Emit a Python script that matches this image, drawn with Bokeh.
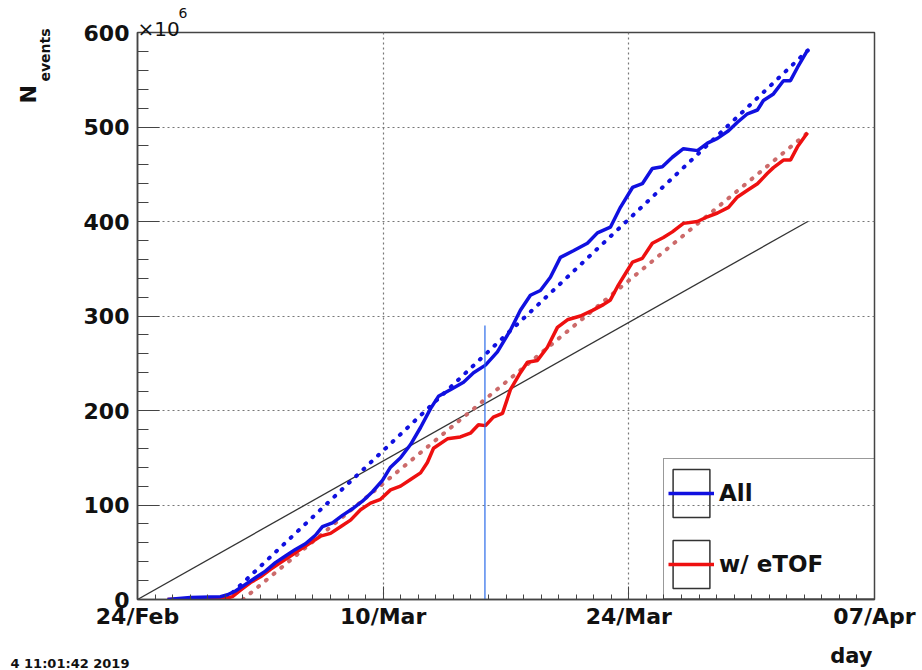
import math
from bokeh.plotting import figure
from bokeh.models import Range1d, FixedTicker, Legend, LegendItem, Label
from bokeh.embed import file_html
from bokeh.resources import INLINE

# ---------------- data (x = days since 24 Feb 2019, y = events x 1e6) ----------------
all_days = [1.71, 3.02, 4.73, 5.13, 5.58, 6.15, 6.72, 7.29, 7.86, 8.43, 9.00, 9.57,
            10.14, 10.54, 11.11, 11.68, 12.25, 12.82, 13.39, 13.96, 14.42, 14.99,
            15.56, 16.13, 16.70, 17.15, 17.83, 18.58, 19.15, 19.83, 20.51, 21.25,
            21.82, 22.39, 22.96, 23.53, 24.10, 24.84, 25.64, 26.21, 26.95, 27.52,
            28.21, 28.77, 29.34, 29.91, 30.48, 31.11, 31.91, 32.48, 33.05, 33.68,
            34.19, 34.76, 35.33, 35.67, 36.24, 36.81, 37.21, 37.61, 38.18]
all_vals = [0, 2, 3, 5, 9, 16, 23, 30, 39, 46, 53, 59,
            68, 77, 81, 89, 96, 104, 114, 126, 140, 150,
            164, 182, 202, 215, 222, 230, 240, 248, 262, 285,
            306, 322, 327, 341, 362, 369, 377, 388, 394, 415,
            436, 440, 456, 458, 468, 477, 475, 483, 488, 496,
            505, 514, 518, 528, 535, 549, 549, 563, 581]

etof_days = [1.71, 3.30, 5.01, 5.41, 5.87, 6.44, 7.01, 7.58, 8.15, 8.72, 9.29, 9.86,
             10.43, 11.00, 11.57, 12.14, 12.71, 13.28, 13.85, 14.42, 14.99, 15.56,
             16.13, 16.52, 16.87, 17.66, 18.40, 18.97, 19.43, 19.83, 20.28, 20.80,
             21.25, 21.82, 22.22, 22.79, 23.36, 23.93, 24.50, 25.24, 25.93, 26.55,
             26.95, 27.35, 27.81, 28.21, 28.77, 29.34, 29.97, 30.48, 31.11, 31.91,
             32.48, 33.05, 33.68, 34.19, 34.76, 35.33, 35.90, 36.24, 36.81, 37.21,
             37.61, 38.18]
etof_vals = [0, 1, 1, 3, 10, 18, 24, 32, 39, 46, 53, 60,
             67, 70, 77, 84, 95, 102, 106, 116, 120, 127,
             134, 145, 160, 170, 172, 176, 185, 184, 193, 197,
             222, 240, 251, 253, 267, 288, 296, 300, 306, 312,
             317, 331, 345, 357, 361, 377, 383, 389, 398, 400,
             405, 409, 415, 426, 433, 440, 451, 457, 465, 465,
             479, 494]

fit_all_days = [5.0, 38.2]
fit_all_vals = [0, 581]
fit_etof_days = [6.0, 38.2]
fit_etof_vals = [0, 494]
goal_days = [0, 38.2]
goal_vals = [0, 400]
marker_days = [19.8, 19.8]
marker_vals = [0, 290]

x_tick_days = [0, 14, 28, 42]
x_tick_labels = ["24/Feb", "10/Mar", "24/Mar", "07/Apr"]
y_ticks = [0, 100, 200, 300, 400, 500, 600]
y_minor = list(range(0, 601, 20))
x_minor = list(range(0, 43))

BLUE = "#1010e0"
RED = "#ee1010"
RED_FIT = "#cc6a6a"
FONT = "DejaVu Sans"

p = figure(width=922, height=670, output_backend="svg", toolbar_location=None,
           title=None, x_range=Range1d(0, 42), y_range=Range1d(0, 600),
           min_border_left=137, min_border_right=48, min_border_top=32,
           min_border_bottom=70)
p.background_fill_color = "white"
p.border_fill_color = "white"
p.outline_line_color = "#444444"
p.outline_line_width = 1.5

# axes
p.xaxis.ticker = FixedTicker(ticks=x_tick_days, minor_ticks=x_minor)
p.xaxis.major_label_overrides = {d: l for d, l in zip(x_tick_days, x_tick_labels)}
p.yaxis.ticker = FixedTicker(ticks=y_ticks, minor_ticks=y_minor)
for ax in (p.xaxis, p.yaxis):
    ax.major_label_text_font = FONT
    ax.major_label_text_font_style = "bold"
    ax.major_label_text_font_size = "22px"
    ax.major_label_text_color = "#111111"
    ax.axis_line_color = "#444444"
    ax.axis_line_width = 1.5
    ax.major_tick_line_color = "#444444"
    ax.minor_tick_line_color = "#444444"
    ax.major_tick_out = 0
    ax.minor_tick_out = 0
p.xaxis.major_tick_in = 13
p.xaxis.minor_tick_in = 5
p.xaxis.major_label_standoff = 4
p.yaxis.major_tick_in = 22
p.yaxis.minor_tick_in = 11
p.yaxis.major_label_standoff = 8

for g in (p.xgrid, p.ygrid):
    g.grid_line_color = "#777777"
    g.grid_line_dash = "2 3"
    g.grid_line_width = 1.2

# lines
p.line(goal_days, goal_vals, line_color="#333333", line_width=1.3)
p.line(fit_etof_days, fit_etof_vals, line_color=RED_FIT, line_width=4,
       line_dash="1 9", line_cap="round")
p.line(fit_all_days, fit_all_vals, line_color=BLUE, line_width=4,
       line_dash="1 9", line_cap="round")
r_etof = p.line(etof_days, etof_vals, line_color=RED, line_width=3.5)
r_all = p.line(all_days, all_vals, line_color=BLUE, line_width=3.5)
p.line(marker_days, marker_vals, line_color="#2a6ae8", line_width=1.2)

# legend sample frame (drawn only inside the legend)
box = p.rect(x=[0], y=[0], width=0, height=0, fill_alpha=0,
             line_color="#333333", line_width=1.5)

legend = Legend(items=[LegendItem(label="All", renderers=[box, r_all]),
                       LegendItem(label="w/ eTOF", renderers=[box, r_etof])],
                location=(526, 0), margin=0, padding=4, spacing=11,
                glyph_width=46, glyph_height=60, label_width=151,
                label_standoff=5, border_line_color="#333333",
                border_line_width=1.5, background_fill_alpha=0,
                label_text_font=FONT, label_text_font_style="bold",
                label_text_font_size="23px", label_text_color="#111111")
p.add_layout(legend)

def lab(text, x, y, size, place, bold=True, angle=0.0, align="left"):
    p.add_layout(Label(x=x, y=y, x_units="screen", y_units="screen", text=text,
                       text_font=FONT, text_font_size=size,
                       text_font_style="bold" if bold else "normal",
                       text_color="#111111", angle=angle, text_align=align,
                       text_baseline="alphabetic"), place)

# texts outside the frame live in the side panels
lab("N", -27, 496, "22px", "left", angle=math.pi / 2)
lab("events", 5, 518, "14px", "left", angle=math.pi / 2)
lab("6", 148, 587, "14px", "left", bold=False)
lab("×10", 0, 4, "20px", "above", bold=False)
lab("day", 735, 0, "21px", "below", align="right")
lab("4 11:01:42 2019", -127, 7, "13px", "below")

open("out.html", "w").write(file_html(p, INLINE))
